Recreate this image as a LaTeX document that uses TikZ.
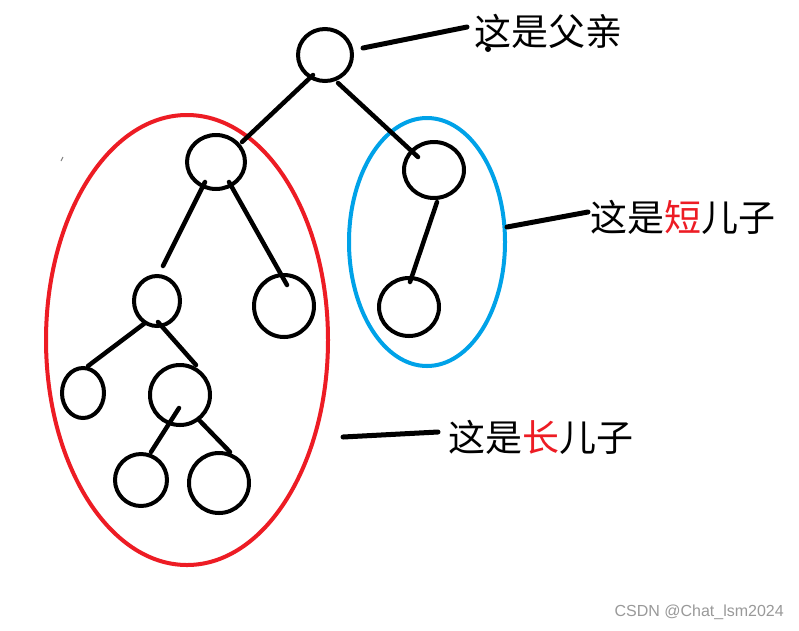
\documentclass[tikz,border=0pt]{standalone}
\usepackage{fontspec}
\setmainfont{Liberation Sans}
\newfontfamily\cjk{Noto Sans CJK SC}
\usetikzlibrary{shapes.geometric}
\definecolor{pred}{HTML}{ED1C24}
\definecolor{pblue}{HTML}{00A2E8}
\begin{document}
\begin{tikzpicture}[x=1pt,y=-1pt,
  tnode/.style={draw=black, ellipse, line width=4pt, inner sep=0pt, outer sep=0pt},
  edge/.style={draw=black, line width=4.5pt, line cap=round},
  pointer/.style={draw=black, line width=5pt, line cap=round},
  group/.style={ellipse, line width=4pt, inner sep=0pt, outer sep=0pt},
  lbl/.style={anchor=west, inner sep=0pt, font=\cjk\fontsize{37}{40}\selectfont},
]
\useasboundingbox[fill=white] (0,0) rectangle (799,630);

% group ellipses
\node[group, draw=pred, minimum width=282pt, minimum height=450pt] (long) at (187,340) {};
\node[group, draw=pblue, minimum width=156pt, minimum height=248pt] (short) at (427,242) {};

% tree nodes
\node[tnode, minimum width=54pt, minimum height=52pt] (root) at (325,55) {};
\node[tnode, minimum width=58pt, minimum height=54pt] (A) at (216,162) {};
\node[tnode, minimum width=60pt, minimum height=56pt] (B) at (434,170) {};
\node[tnode, minimum width=60pt, minimum height=58pt] (B2) at (409,307) {};
\node[tnode, minimum width=46pt, minimum height=50pt] (C) at (157,301) {};
\node[tnode, minimum width=60pt, minimum height=62pt] (D) at (284,306) {};
\node[tnode, minimum width=42pt, minimum height=50pt] (E) at (83,393) {};
\node[tnode, minimum width=60pt, minimum height=60pt] (F) at (180,395) {};
\node[tnode, minimum width=52pt, minimum height=52pt] (G) at (141,480) {};
\node[tnode, minimum width=60pt, minimum height=60pt] (H) at (219,483) {};

% tree edges (hand-drawn end points, relative to the nodes)
\draw[edge] ([shift={(-12,20)}]root.center) -- ([shift={(26,-20)}]A.center);
\draw[edge] ([shift={(13,28)}]root.center) -- ([shift={(-16,-13)}]B.center);
\draw[edge] ([shift={(3,32)}]B.center) -- ([shift={(1,-25)}]B2.center);
\draw[edge] ([shift={(-11,20)}]A.center) -- ([shift={(6,-35)}]C.center);
\draw[edge] ([shift={(13,20)}]A.center) -- ([shift={(3,-21)}]D.center);
\draw[edge] ([shift={(-12,22)}]C.center) -- ([shift={(5,-27)}]E.center);
\draw[edge] ([shift={(1,21)}]C.center) -- ([shift={(16,-30)}]F.center);
\draw[edge] ([shift={(-1,13)}]F.center) -- ([shift={(10,-28)}]G.center);
\draw[edge] ([shift={(20,26)}]F.center) -- ([shift={(11,-31)}]H.center);

% labels
\node[lbl] (fa) at (474,31) {这是父亲};
\node[lbl] (sh) at (590,217) {这是{\color{pred}短}儿子};
\node[lbl] (lo) at (448,437) {这是{\color{pred}长}儿子};

% pointer lines
\draw[pointer] ([shift={(38,-7)}]root.center) -- ([shift={(-7,-4)}]fa.west);
\draw[pointer] ([shift={(2,-15)}]short.east) -- ([shift={(-2,-5)}]sh.west);
\draw[pointer] ([shift={(15,97)}]long.east) -- ([shift={(-10,-5)}]lo.west);

% stray marks
\fill[black] (488,49) circle (3pt);
\draw[gray, line width=1pt] (61,161) -- (63,157);

% watermark
\node[anchor=east, inner sep=0pt, text=black!40, font=\fontsize{16}{18}\selectfont] (wm) at (784,612) {CSDN @Chat\_lsm2024};
\end{tikzpicture}
\end{document}
